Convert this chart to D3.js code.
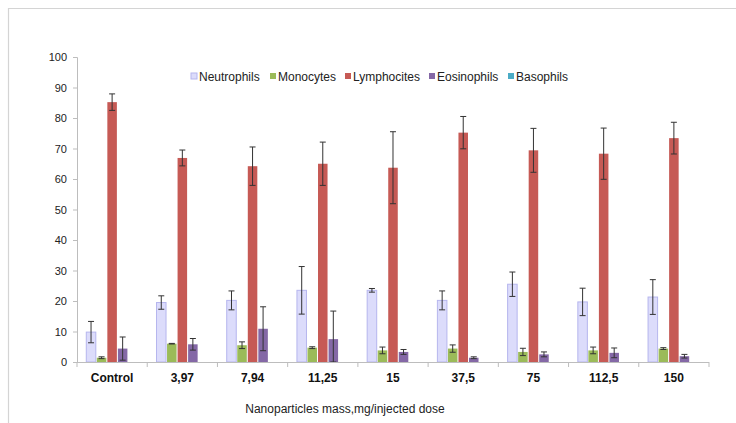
<!DOCTYPE html>
<html>
<head>
<meta charset="utf-8">
<script src="https://cdn.jsdelivr.net/npm/d3@7"></script>
<style>
  html, body { margin: 0; padding: 0; background: #fff; }
  svg { display: block; font-family: "Liberation Sans", Arial, sans-serif; }
</style>
</head>
<body>
<svg id="chart" width="736" height="423"></svg>
<script>
// Dose groups (mg of nanoparticles per injected dose)
const categories = ["Control", "3,97", "7,94", "11,25", "15", "37,5", "75", "112,5", "150"];
const seriesNames = ["Neutrophils", "Monocytes", "Lymphocites", "Eosinophils", "Basophils"];

// Mean percentage of each leukocyte type
const neutrophils = [9.8, 19.5, 20.2, 23.5, 23.5, 20.2, 25.5, 19.7, 21.3];
const monocytes   = [1.4, 6.0, 5.5, 4.7, 3.8, 4.4, 3.3, 3.8, 4.4];
const lymphocites = [85.2, 66.9, 64.2, 65.0, 63.7, 75.2, 69.4, 68.3, 73.4];
const eosinophils = [4.4, 5.8, 10.9, 7.5, 3.3, 1.4, 2.5, 3.0, 1.9];
const basophils   = [0, 0, 0, 0, 0, 0, 0, 0, 0];

// Standard deviations
const neutrophilsErr = [3.5, 2.2, 3.1, 7.8, 0.6, 3.1, 4.0, 4.5, 5.7];
const monocytesErr   = [0.3, 0.1, 1.1, 0.3, 1.1, 1.2, 1.2, 1.1, 0.3];
const lymphocitesErr = [2.7, 2.6, 6.3, 7.1, 11.8, 5.3, 7.2, 8.4, 5.2];
const eosinophilsErr = [3.8, 1.9, 7.2, 9.2, 0.8, 0.3, 0.8, 1.6, 0.6];
const basophilsErr   = [0, 0, 0, 0, 0, 0, 0, 0, 0];

const yTicks = [0, 10, 20, 30, 40, 50, 60, 70, 80, 90, 100];

const seriesValues = [neutrophils, monocytes, lymphocites, eosinophils, basophils];
const seriesErrors = [neutrophilsErr, monocytesErr, lymphocitesErr, eosinophilsErr, basophilsErr];
const fills   = ["#dcdcfb", "#9bbb59", "#c65a55", "#8468a6", "#4bacc6"];
const strokes = ["#b6b6ee", "none", "none", "none", "none"];

const svg = d3.select("#chart");
const plotLeft = 77, plotRight = 709, plotTop = 57, plotBottom = 362;

// Outer frame (top and left edges)
svg.append("line").attr("x1", 8).attr("x2", 736).attr("y1", 8.5).attr("y2", 8.5)
  .attr("stroke", "#d4d4d4").attr("stroke-width", 1.2);
svg.append("line").attr("x1", 8.5).attr("x2", 8.5).attr("y1", 8).attr("y2", 423)
  .attr("stroke", "#d4d4d4").attr("stroke-width", 1.2);

const x = d3.scaleBand().domain(categories).range([plotLeft, plotRight])
  .paddingInner(0.25).paddingOuter(0.125);
const xs = d3.scaleBand().domain(seriesNames).range([0, x.bandwidth()]).padding(0);
const y = d3.scaleLinear().domain([0, 100]).range([plotBottom, plotTop]);

// Y axis
const yAxis = svg.append("g").attr("transform", `translate(${plotLeft},0)`)
  .call(d3.axisLeft(y).tickValues(yTicks).tickSize(4).tickPadding(6));
yAxis.select(".domain").attr("stroke", "#bdbdbd");
yAxis.selectAll(".tick line").attr("stroke", "#bdbdbd");
yAxis.selectAll(".tick text").attr("font-size", 11).attr("fill", "#222")
  .attr("font-family", "'Liberation Sans', Arial, sans-serif");

// Bars
const groups = svg.append("g").selectAll("g")
  .data(categories).join("g")
  .attr("transform", c => `translate(${x(c)},0)`);

seriesNames.forEach((name, si) => {
  groups.append("rect")
    .attr("x", xs(name) + 0.5)
    .attr("width", xs.bandwidth() - 1)
    .attr("y", (c, ci) => y(seriesValues[si][ci]))
    .attr("height", (c, ci) => plotBottom - y(seriesValues[si][ci]))
    .attr("fill", fills[si])
    .attr("stroke", strokes[si])
    .attr("stroke-width", 1);
});

// Error bars
seriesNames.forEach((name, si) => {
  const cx = xs(name) + xs.bandwidth() / 2;
  groups.each(function (c, ci) {
    const v = seriesValues[si][ci], e = seriesErrors[si][ci];
    if (!e) return;
    const g = d3.select(this).append("g").attr("stroke", "#333").attr("stroke-width", 1);
    const y1 = y(v + e), y2 = y(Math.max(0, v - e));
    g.append("line").attr("x1", cx).attr("x2", cx).attr("y1", y1).attr("y2", y2);
    g.append("line").attr("x1", cx - 3).attr("x2", cx + 3).attr("y1", y1).attr("y2", y1);
    g.append("line").attr("x1", cx - 3).attr("x2", cx + 3).attr("y1", y2).attr("y2", y2);
  });
});

// X axis line, category separators and labels
svg.append("line").attr("x1", plotLeft).attr("x2", plotRight)
  .attr("y1", plotBottom + 0.5).attr("y2", plotBottom + 0.5)
  .attr("stroke", "#bdbdbd");
const bounds = d3.range(categories.length + 1).map(i => plotLeft + i * x.step());
svg.append("g").selectAll("line").data(bounds).join("line")
  .attr("x1", d => d).attr("x2", d => d).attr("y1", plotBottom).attr("y2", plotBottom + 5)
  .attr("stroke", "#bdbdbd");

const xAxis = svg.append("g").attr("transform", `translate(0,${plotBottom})`)
  .call(d3.axisBottom(x).tickSize(0).tickPadding(11));
xAxis.select(".domain").remove();
xAxis.selectAll(".tick text").attr("font-size", 12).attr("font-weight", "bold")
  .attr("fill", "#111").attr("font-family", "'Liberation Sans', Arial, sans-serif");

// Axis title
svg.append("text").attr("x", 345).attr("y", 413).attr("text-anchor", "middle")
  .attr("font-size", 12).attr("fill", "#222")
  .text("Nanoparticles mass,mg/injected dose");

// Legend
const legendX = [191, 270, 345, 429, 508];
const legend = svg.append("g").selectAll("g").data(seriesNames).join("g")
  .attr("transform", (d, i) => `translate(${legendX[i]},81)`);
legend.append("rect").attr("x", 0).attr("y", -8).attr("width", 6).attr("height", 6)
  .attr("fill", (d, i) => fills[i]).attr("stroke", (d, i) => strokes[i]);
legend.append("text").attr("x", 8).attr("y", 0)
  .attr("font-size", 12).attr("fill", "#222").text(d => d);
</script>
</body>
</html>
